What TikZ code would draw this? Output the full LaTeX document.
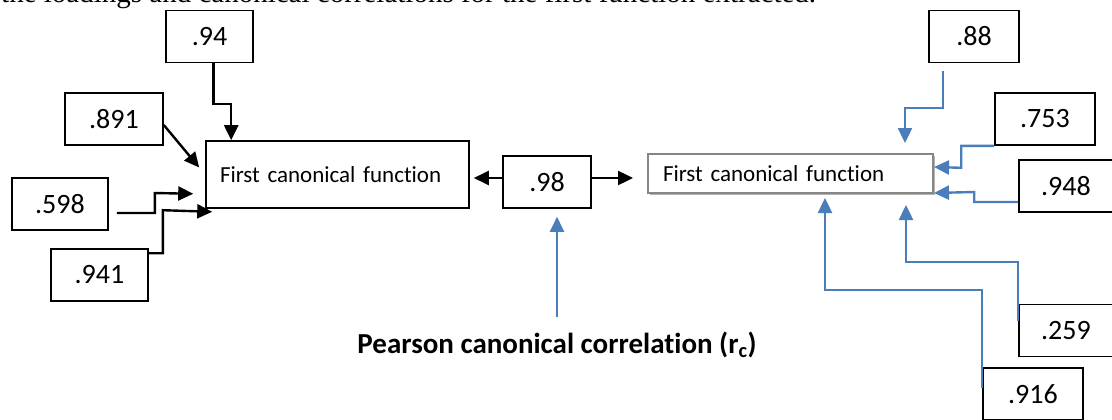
\documentclass[tikz,border=0pt]{standalone}
\usepackage{fontspec}
\setmainfont{Carlito}[Ligatures=CommonOff]
\newfontfamily\captionserif{Liberation Serif}
\usepackage{tikz}
\usetikzlibrary{calc, arrows.meta, shadows}
\definecolor{lineblue}{RGB}{74,126,187}

\begin{document}
\begin{tikzpicture}[x=1pt, y=-1pt,
        numbox/.style={rectangle, draw=black, line width=1.6pt, minimum height=52pt, inner sep=0pt, text centered, font=\fontsize{28}{30}\selectfont},
        funbox/.style={rectangle, line width=1.6pt, inner ysep=0pt, align=left, font=\fontsize{23}{26}\selectfont},
        blk/.style={draw=black, line width=2.4pt, -{Triangle[length=15pt, width=14pt]}},
        blu/.style={draw=lineblue, line width=2.4pt, -{Triangle[length=15pt, width=14pt]}}]

        \useasboundingbox (0,0) rectangle (1112,420);
        \clip (0,0) rectangle (1112,420);

        %% Caption line, cut by the page top
        \node (caption) [anchor=base west, inner sep=0pt] at (1,3) {\captionserif\fontsize{29}{32}\selectfont the loadings and canonical correlations for the first function extracted.};

        %% Canonical functions
        \node (leftfun) [funbox, draw=black, text width=235pt, inner xsep=14pt, minimum height=67pt] at (337.5,174.5) {First canonical function};
        \node (rightfun) [funbox, draw=gray!95, fill=white, line width=2pt, text width=255pt, inner xsep=15pt, minimum height=39pt,
            drop shadow={shadow xshift=1.5pt, shadow yshift=-1.5pt, fill=gray!60, opacity=1}] at (790.5,173.5) {First canonical function};

        %% Left loadings
        \node (n94) [numbox, minimum width=87pt] at (209.5,36.5) {.94};
        \node (n891) [numbox, minimum width=98pt] at (114,119) {.891};
        \node (n598) [numbox, minimum width=96pt] at (60,204) {.598};
        \node (n941) [numbox, minimum width=97pt] at (99.5,275) {.941};

        %% Correlation
        \node (rc) [numbox, minimum width=88pt] at (547,182) {.98};
        \node (pearson) [inner sep=0pt, font=\fontsize{29}{32}\selectfont\bfseries] at (557,345) {Pearson canonical correlation (r\textsubscript{c})};

        %% Right loadings
        \node (n88) [numbox, minimum width=90pt] at (974,36.5) {.88};
        \node (n753) [numbox, minimum width=100pt] at (1045,119) {.753};
        \node (n948) [numbox, minimum width=94pt] at (1066,186) {.948};
        \node (n259) [numbox, minimum width=94pt] at (1066,330.5) {.259};
        \node (n916) [numbox, minimum width=100pt] at (1033,394) {.916};

        %% Arrows into the left function
        \draw [blk] ($(n94.south)+(4,0)$) -- ++(0,41) -| ($(leftfun.north west)+(26,0)$);
        \draw [blk] ($(n891.east)+(0,6)$) -- ($(leftfun.west)+(-6,-7)$);
        \draw [blk] ($(n598.east)+(8,9)$) -| ++(38,-20) -- ($(leftfun.south west)+(-12,-15)$);
        \draw [blk] ($(n941.north east)+(0,5)$) -| ++(14,-43) -- ($(leftfun.south west)+(7,3)$);

        %% Correlation to both functions
        \coordinate (rcl) at ($(rc.west)+(0,-4)$);
        \coordinate (rcr) at ($(rc.east)+(0,-4)$);
        \draw [blk, shorten >=4pt] (rcl) -- (rcl -| leftfun.east);
        \draw [blk, shorten >=14pt] (rcr) -- (rcr -| rightfun.west);
        \draw [blu, shorten >=8pt] ($(pearson.north)+(0,-15)$) -- (pearson.north |- rc.south);

        %% Arrows into the right function
        \draw [blu, shorten >=10pt] ($(n88.south west)+(15,8)$) -- ++(0,37) -| ($(rightfun.north east)+(-29,0)$);
        \draw [blu] (n753.south west) -| ++(-33,22) -- ($(rightfun.east)+(0,-6.5)$);
        \draw [blu] ($(n948.west)+(0,16)$) -| ++(-44,-10) -- ($(rightfun.south east)+(0,-1)$);
        \draw [blu, shorten >=11pt] ($(n259.north west)+(0,17)$) -- ++(0,-59) -| ($(rightfun.south east)+(-28,0)$);
        \draw [blu, shorten >=4pt] ($(n916.north west)+(0,21)$) -- ++(0,-98) -| ($(rightfun.south west)+(178,0)$);

\end{tikzpicture}
\end{document}
